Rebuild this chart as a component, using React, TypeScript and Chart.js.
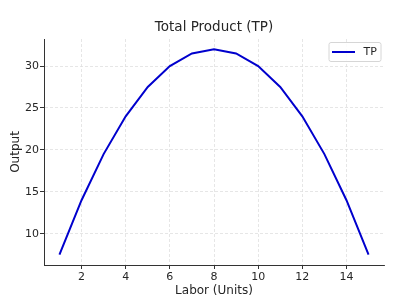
import React, { useEffect, useRef } from "react";
import { Chart, registerables } from "chart.js";

Chart.register(...registerables);

const labor = [1, 2, 3, 4, 5, 6, 7, 8, 9, 10, 11, 12, 13, 14, 15];
const tp = [7.5, 14, 19.5, 24, 27.5, 30, 31.5, 32, 31.5, 30, 27.5, 24, 19.5, 14, 7.5];
const xTicks = [2, 4, 6, 8, 10, 12, 14];
const yTicks = [10, 15, 20, 25, 30];
const seriesName = "TP";
const chartTitle = "Total Product (TP)";
const xLabel = "Labor (Units)";
const yLabel = "Output";

const FONT = "'DejaVu Sans', sans-serif";
const TEXT = "#262626";
const LINE = "#0000CD";

const legendPlugin = {
  id: "mplLegend",
  afterDatasetsDraw(chart: any) {
    const ctx = chart.ctx;
    const ds = chart.data.datasets[0];
    const area = chart.chartArea;
    const right = area.right - 3;
    const top = area.top + 3.5;
    const w = 52;
    const h = 19;
    const left = right - w;
    ctx.save();
    ctx.fillStyle = "rgba(255,255,255,0.85)";
    ctx.strokeStyle = "#d6d6d6";
    ctx.lineWidth = 1;
    const r = 2;
    ctx.beginPath();
    ctx.moveTo(left + r, top);
    ctx.lineTo(right - r, top);
    ctx.quadraticCurveTo(right, top, right, top + r);
    ctx.lineTo(right, top + h - r);
    ctx.quadraticCurveTo(right, top + h, right - r, top + h);
    ctx.lineTo(left + r, top + h);
    ctx.quadraticCurveTo(left, top + h, left, top + h - r);
    ctx.lineTo(left, top + r);
    ctx.quadraticCurveTo(left, top, left + r, top);
    ctx.closePath();
    ctx.fill();
    ctx.stroke();
    const cy = top + h / 2;
    ctx.strokeStyle = ds.borderColor;
    ctx.lineWidth = 2;
    ctx.beginPath();
    ctx.moveTo(left + 3, cy);
    ctx.lineTo(left + 26, cy);
    ctx.stroke();
    ctx.fillStyle = TEXT;
    ctx.font = `11px ${FONT}`;
    ctx.textBaseline = "middle";
    ctx.textAlign = "left";
    ctx.fillText(ds.label, left + 34.5, cy + 0.5);
    ctx.restore();
  },
};

export default function App() {
  const ref = useRef<HTMLCanvasElement | null>(null);

  useEffect(() => {
    if (!ref.current) return;
    const gridOpts = {
      color: "#e0e0e0",
      lineWidth: 0.8,
      drawTicks: true,
      tickLength: 4,
      tickColor: "#333333",
      tickBorderDash: [],
      tickWidth: 1,
    };
    const borderOpts = { display: true, color: "#333333", width: 1, dash: [3, 2] };
    const chart = new Chart(ref.current, {
      type: "line",
      data: {
        datasets: [
          {
            label: seriesName,
            data: labor.map((x, i) => ({ x, y: tp[i] })),
            borderColor: LINE,
            backgroundColor: LINE,
            borderWidth: 2,
            pointRadius: 0,
            tension: 0,
            fill: false,
          },
        ],
      },
      options: {
        responsive: false,
        animation: false,
        layout: { padding: { left: 0, right: 16, top: 0, bottom: 0 } },
        plugins: {
          legend: { display: false },
          tooltip: { enabled: false },
          title: {
            display: true,
            text: chartTitle,
            fullSize: false,
            color: TEXT,
            font: { family: FONT, size: 13.5, weight: "normal" },
            padding: { top: 19, bottom: 3.8 },
          },
        },
        scales: {
          x: {
            type: "linear",
            min: 0.3,
            max: 15.7,
            afterBuildTicks: (s: any) => {
              s.ticks = xTicks.map((v) => ({ value: v }));
            },
            afterFit: (s: any) => {
              s.height = 39;
            },
            border: borderOpts,
            grid: gridOpts,
            ticks: {
              color: TEXT,
              font: { family: FONT, size: 11 },
              padding: 2,
              maxRotation: 0,
              callback: (v: any) => String(v),
            },
            title: {
              display: true,
              text: xLabel,
              color: TEXT,
              font: { family: FONT, size: 12 },
              padding: { top: 0, bottom: 6 },
            },
          },
          y: {
            type: "linear",
            min: 6.275,
            max: 33.225,
            afterBuildTicks: (s: any) => {
              s.ticks = yTicks.map((v) => ({ value: v }));
            },
            afterFit: (s: any) => {
              s.width = 44;
            },
            border: borderOpts,
            grid: gridOpts,
            ticks: {
              color: TEXT,
              font: { family: FONT, size: 11 },
              padding: 1,
              callback: (v: any) => String(v),
            },
            title: {
              display: true,
              text: yLabel,
              color: TEXT,
              font: { family: FONT, size: 12 },
              padding: { top: 8.5, bottom: 0 },
            },
          },
        },
      },
      plugins: [legendPlugin],
    });
    return () => chart.destroy();
  }, []);

  return (
    <div style={{ position: "absolute", left: 0, top: 0, width: 400, height: 304, background: "#fff" }}>
      <canvas ref={ref} width={400} height={304} style={{ width: 400, height: 304 }} />
    </div>
  );
}
